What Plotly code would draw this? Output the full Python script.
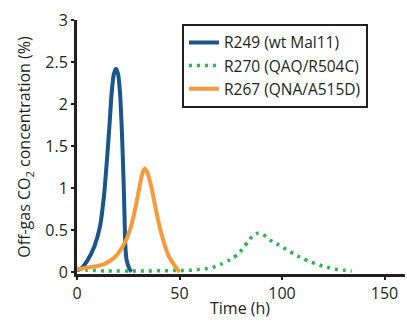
import plotly.graph_objects as go

# R249 (wt Mal11)
t_r249 = [0, 2, 5.2, 8.4, 11.2, 13.3, 14.6, 15.8, 16.9, 18, 19.0, 20, 21.0, 21.8, 22.4, 22.9, 23.3, 23.6, 24.2, 25.5, 26.5]
co2_r249 = [0.02, 0.04, 0.14, 0.30, 0.54, 0.94, 1.33, 1.73, 2.13, 2.36, 2.42, 2.36, 2.13, 1.73, 1.33, 0.94, 0.54, 0.30, 0.14, 0.04, 0.0]

# R270 (QAQ/R504C)
t_r270 = [0, 5, 15, 30, 45, 51.9, 55.9, 59.7, 63.4, 67, 70.6, 73.5, 76.4, 78.9, 81.3, 83.4, 85.7, 88.1,
          90.6, 92.2, 94.1, 96.1, 98.5, 100.6, 103.3, 105.5, 107.6, 110.7, 113.5, 116.3, 119.7, 123, 126.7, 130.2, 134]
co2_r270 = [0.03, 0.02, 0.01, 0.01, 0.015, 0.016, 0.02, 0.03, 0.04, 0.06, 0.095, 0.13, 0.17, 0.22, 0.29, 0.36, 0.43, 0.46,
            0.45, 0.42, 0.38, 0.35, 0.32, 0.29, 0.25, 0.22, 0.19, 0.155, 0.12, 0.10, 0.07, 0.05, 0.03, 0.02, 0.01]

# R267 (QNA/A515D)
t_r267 = [0, 5, 10, 13, 16, 19.4, 22, 24.5, 27, 28.8, 30.4, 32, 33.2, 34.5, 36.4, 38, 39.7, 41.8, 44.5, 47.8, 50]
co2_r267 = [0.03, 0.05, 0.07, 0.09, 0.13, 0.2, 0.29, 0.41, 0.6, 0.8, 1.0, 1.18, 1.23, 1.17, 1.0, 0.8, 0.6, 0.4, 0.2, 0.07, 0.0]

x_ticks = [0, 50, 100, 150]
y_ticks = [0, 0.5, 1, 1.5, 2, 2.5, 3]
y_tick_labels = ["0", "0.5", "1", "1.5", "2", "2.5", "3"]

BLUE = "#1a5689"
GREEN = "#2fb44e"
ORANGE = "#f7993d"
INK = "#231f20"
FONT = "Open Sans"

fig = go.Figure()
fig.add_trace(go.Scatter(x=t_r249, y=co2_r249, mode="lines", name="R249 (wt Mal11)",
                         line=dict(color=BLUE, width=4, shape="spline", smoothing=0.5)))
fig.add_trace(go.Scatter(x=t_r270, y=co2_r270, mode="lines", name="R270 (QAQ/R504C)",
                         line=dict(color=GREEN, width=3.5, dash="3px,5px", shape="spline", smoothing=0.5)))
fig.add_trace(go.Scatter(x=t_r267, y=co2_r267, mode="lines", name="R267 (QNA/A515D)",
                         line=dict(color=ORANGE, width=4, shape="spline", smoothing=0.5)))

fig.update_layout(
    width=407, height=322,
    margin=dict(l=77, r=2, t=20, b=48, autoexpand=False),
    plot_bgcolor="white", paper_bgcolor="white",
    font=dict(family=FONT, size=16, color=INK),
    showlegend=True,
    legend=dict(x=0.32, y=0.985, xanchor="left", yanchor="top",
                bordercolor=INK, borderwidth=2, bgcolor="white",
                font=dict(family=FONT, size=15.5, color=INK),
                tracegroupgap=0, itemwidth=30),
    xaxis=dict(range=[0, 160], tickvals=x_ticks, ticks="outside", ticklen=3, tickwidth=2,
               tickcolor=INK, showline=True, linecolor=INK, linewidth=3, showgrid=False,
               zeroline=False, automargin=False, tickfont=dict(family=FONT, size=16, color=INK)),
    yaxis=dict(range=[-0.025, 3], tickvals=y_ticks, ticktext=y_tick_labels, ticks="outside",
               ticklen=3, tickwidth=2, tickcolor=INK, showline=True, linecolor=INK,
               linewidth=3, showgrid=False, zeroline=False, automargin=False,
               title=dict(text="Off-gas CO<sub>2</sub> concentration (%)", standoff=11,
                          font=dict(family=FONT, size=16, color=INK)),
               tickfont=dict(family=FONT, size=16, color=INK)),
    annotations=[dict(text="Time (h)", xref="paper", yref="paper", x=0.497, y=-0.133,
                      xanchor="center", yanchor="middle", showarrow=False,
                      font=dict(family=FONT, size=16, color=INK))],
)

fig.write_html("out.html", config={"displayModeBar": False},
               post_script="document.body.style.margin='0';document.body.style.overflow='hidden';")
